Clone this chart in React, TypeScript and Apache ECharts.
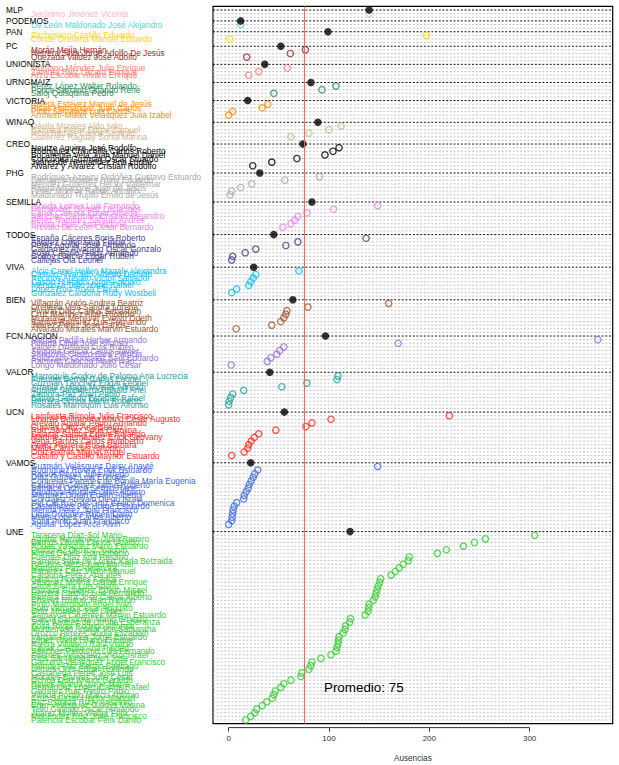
import React, { useEffect, useRef } from "react";
import * as echarts from "echarts";

const parties = [
  "MLP", "PODEMOS", "PAN", "PC", "UNIONISTA", "URNGMAIZ", "VICTORIA", "WINAQ", "CREO", "PHG",
  "SEMILLA", "TODOS", "VIVA", "BIEN", "FCN.NACION", "VALOR", "UCN", "VAMOS", "UNE",
];

const partyColors = [
  "#FFB6C1", "#40E0D0", "#FFD700", "#A52A2A", "#FA8072", "#2E8B57", "#FF8C00", "#D2B48C", "#000000", "#A9A9A9",
  "#EE82EE", "#483D8B", "#00BFFF", "#A0522D", "#9370DB", "#20A0A0", "#FF2A1F", "#4169E1", "#32CD32",
];

// party averages (black dots on the party rows)
const partyMeans = [140, 12, 99, 52, 36, 82, 19, 89, 74, 31, 83, 45, 25, 64, 96.5, 41, 55.5, 22, 121];

const memberNames: string[][] = [
  ["Jerónimo Jiménez Vicenta"],
  ["De León Maldonado José Alejandro"],
  ["Zachrisson Castillo Eduardo", "Conde Orellana Manuel Eduardo"],
  ["Morán Mejía Hernán", "Herrera Silva Jorge Adolfo De Jesús", "Quezada Valdez José Adolfo"],
  ["Montano Méndez Julio Enrique", "Zamora Ruiz Lázaro Enrique", "Arzú Escobar Álvaro Enrique"],
  ["Pérez López Walter Rolando", "Ponce Serrano Orlando René", "Saloj Quisquiná Pedro"],
  ["Rivera Estévez Manuel de Jesús", "Rivas Hernández Juan Carlos", "Pinto Samayoa Luis Carlos", "Arnheim-Müller Velásquez Julia Izabel"],
  ["Dávila Morales Aldo Iván", "Bámaca Pérez Edgar Samuel", "Ixcot Ramos Carlos Stuardo", "Gutiérrez Raguay Sonia Marina"],
  ["Neutze Aguirre José Rodolfo", "Rodríguez Chinchilla Carlos Roberto", "Bocanegra Vela Juan Manuel Daniel", "Concoguá Guzmán Óscar Stuardo", "Juárez de Hernández Ana Lucía", "Álvarez y Álvarez Cristian Rodolfo"],
  ["Rodríguez-Azpuru Ordóñez Gustavo Estuardo", "Samayoa Morales Rony Eduardo", "Méndez Gutiérrez Héctor Valdemar", "Rivera Mijangos Juan de Jesús", "Pérez Monroy Rafael Antonio", "Maldonado Trujillo Emilio de Jesús"],
  ["Pineda Lemus Luis Fernando", "Hernández Gómez Lucía Inés", "Canel Cabrera Edgar Alfredo", "Sánchez Guzmán Cristian Alejandro", "Pérez Ramírez Samuel Andrés", "Rivera López Ana Victoria", "Arévalo De León César Bernardo"],
  ["España Cáceres Boris Roberto", "Álvarez Lorenzana Felipe", "Pérez Aguilar José Armando", "Galdámez Alvarado Oscar Gonzalo", "Sosa Castillo Fredy Armando", "Godoy García Edgar Rubén", "Callejas Ola Leonel"],
  ["Alcic Canel Hellen Magaly Alexandra", "Castillo Alvarado Alberto Damián", "Recinos Arévalo Víctor Salvador", "Castro Hurtado Jorge Antonio", "Mendoza Tello Mario Rafael", "López Ruiz Rosa Elvira", "González Cardona Rudy Wostbeli"],
  ["Villagrán Antón Andrea Beatriz", "Orellana Vela Sandra Lorena", "Pivaral Díaz Carlos Sebastián", "Cruz Martínez Allan Ricardo", "Morataya Menjívar Evelyn Odeth", "Barrios Ramírez Luis Fernando", "Juárez Pérez José Carlos", "Alvarado Morales Marvin Estuardo"],
  ["Mérida Padilla Herber Armando", "Pineda Oliva José Alfonso", "Valdez Orellana Luis Rubén", "Segovia García Carlos Javier", "Sandoval Castro Sara Patricia", "Solórzano González Saúl Eduardo", "Ramírez Chacón Mario Iván", "Longo Maldonado Julio César"],
  ["Marroquín Godoy de Palomo Ana Lucrecia", "Fuentes Bernal Carlos Leonel", "Guzmán Tánchez Edgar Leonel", "Arreola Arriaga Moisés Alfredo", "Aguilar Salvatierra Ronald Ariel", "Zamora Paz Juan Pablo", "Batres Galindo Esteban Rafael", "Herrera Ochoa Mario Roberto", "Rosales Marroquín Luis Alfonso"],
  ["Lainfiesta Rímola Julio Francisco", "Linares Beltranena Mario César Augusto", "Arévalo Aguilar Pedro Armando", "Cuevas Ortiz Ana Beatriz", "Ruiz Sánchez Sofía Carolina", "Salazar Santos Edwin Rolando", "Martínez Hernández Erick Geovany", "Vega Barrios Carlos Humberto", "Pérez Herrera Rosa Bárbara", "Mejía Cano Luis Antonio", "Ortiz Batres Miguel Ángel", "Castillo y Castillo Maynor Estuardo"],
  ["Guzmán Velásquez Daisy Anayté", "Rodríguez Rivera Erick Estuardo", "Ramos Pérez Julio Alfredo", "Díaz Gómez Luis Enrique", "Contreras Paredes de Bonilla María Eugenia", "Calderón Gómez Jaime Roberto", "Bámaca Ochoa Sergio René", "Sandoval Morales José Alberto", "Martínez Durán Edwin Alberto", "González Arévalo Diego Israel", "Del Cid Ruiz de Ortiz Greicy Domenica", "Castellanos Paz Jorge Estuardo", "Mérida Pérez Julio Francisco", "Lima Ordóñez Rubén Darío", "Mena López Carlos Alberto", "Solís Pinto Juan Francisco", "Aguilar López Arce Alvin"],
  ["Taracena Díaz-Sol Mario", "Aguilar Hernández Juan Ramiro", "Barrios Zavala Carlos Ubaldo", "Rodas Vásquez Mario Estuardo", "Quiñónez Orozco Joaquín", "Flores Ovalle Juan Ignacio", "Fuentes Díaz Ana Rosario", "Carreto Sosa de López Karla Betzaida", "Recinos Meza Juan Manuel", "Martínez Paz Alejandra", "Ramírez Cruz Víctor Manuel", "Cardona Pérez Ana Inés", "Santizo Rosales Carlos", "Vásquez Molina Carlos Enrique", "Girón Sierra Luis Adolfo", "Estrada Gutiérrez Edwin Misael", "Herrera Castillo Luis Fernando", "Barrera Lara José Carlos Alberto", "Chávez Ruano Juan Ramón", "Pinto Marroquín Ángel Iván", "Soto Vargas César Augusto", "Ortiz Morales Joel Ulises", "Samayoa Cifuentes Marvin Estuardo", "García Sandoval Mario Ernesto", "Solís Álvarez de Urrutia Esperanza", "Sosa Rivas Rodrigo Alfonso", "Monterroso Aguilar Ilse Samantha", "Orozco Pérez Claudia Elizabeth", "Vargas Morales Jorge Estuardo", "López Rivas Hilario Enrique", "Rivera Villatoro Raúl Vinicio", "Cayax Castillo Ana Piedad", "Sánchez Perdomo Luis Fernando", "Fuentes Velásquez Víctor Israel", "Ríos Samayoa Erwin José", "Garzona Velásquez Ángel Francisco", "Méndez Paz Sergio Santiago", "Lemus Ortiz Edgar Rolando", "Castañeda Pérez José Luis", "Morales Barrios Julio César", "Ochoa Díaz Mynor Gerardo", "Reyes Pineda Jorge Mario", "Hernández López Carlos Rafael", "Godínez Ruiz Pedro Pablo", "Villeda Portillo Marco Antonio", "Cruz Salazar Héctor Manuel", "Paz Estrada Rudy Anselmo", "Bran Velásquez Gladys Marina", "Tello Galindo Óscar Armando", "Juárez Molina Walter Félix", "Menéndez Ruiz José Francisco", "Palencia Escobar Félix Danilo"],
];

const memberValues: number[][] = [
  [140],
  [12],
  [197, 1],
  [76.5, 61.5, 18],
  [58.5, 30, 20],
  [107, 93, 45],
  [39, 33.5, 4, 0],
  [112, 100, 80, 62],
  [110, 104, 96, 68, 43, 24],
  [90.5, 56, 23, 12, 3, 1.5],
  [148.5, 104.5, 78, 69, 66, 62, 54],
  [137, 69, 57, 27, 16.5, 4, 3],
  [70, 27, 24.5, 22, 20, 8, 3],
  [159.5, 79, 58, 57, 55, 52, 43, 7.5],
  [368, 169, 55, 51, 48, 42, 38.5, 2.5],
  [109, 108, 78, 53, 15, 4, 2, 0.5, 0],
  [220, 102, 83, 77, 47, 30, 25.5, 22.5, 20, 19, 15.5, 3],
  [148.5, 29, 26, 24.5, 22.5, 20.5, 19.5, 17.5, 15.5, 15, 8, 5.5, 4.5, 4, 3.5, 3, 0],
  [305, 256, 245, 234, 217, 208, 180, 179, 174, 170, 166, 162, 151.5, 150.5, 149, 148, 147, 146, 144, 140, 139.5, 139, 136, 121.5, 120.5, 116.5, 116, 114, 110, 109.5, 109, 108, 107, 102, 92, 83, 82, 80, 73, 72, 62, 55, 52, 46.5, 45, 43.5, 38, 33.5, 28, 26, 22, 17],
];

const overallMean = 75;
const meanLabel = "Promedio: 75";
const xTicks = [0, 100, 200, 300];
const xTitle = "Ausencias";

const FONT = "'Liberation Sans', Arial, Helvetica, sans-serif";

export default function App() {
  const ref = useRef<HTMLDivElement>(null);

  useEffect(() => {
    const chart = echarts.init(ref.current!, null, { renderer: "svg" });

    let totalRows = 0;
    memberValues.forEach((m) => (totalRows += m.length + 2));
    const topRow = totalRows - 1;
    const nCat = totalRows + 1;
    const cats: string[] = [];
    for (let i = 0; i < nCat; i++) cats.push(String(i));
    const groupLab: string[] = new Array(nCat).fill("");
    const memberLab: string[] = new Array(nCat).fill("");
    const memberCol: string[] = new Array(nCat).fill("#000");
    const isHeader: boolean[] = new Array(nCat).fill(false);
    const headerPts: number[][] = [];
    const memberPts: any[] = [];

    let pos = topRow;
    parties.forEach((p, i) => {
      groupLab[pos] = p;
      isHeader[pos] = true;
      headerPts.push([partyMeans[i], pos]);
      memberValues[i].forEach((v, j) => {
        const r = pos - 1 - j;
        memberLab[r] = memberNames[i][j] || "";
        memberCol[r] = partyColors[i];
        memberPts.push({ value: [v, r], itemStyle: { borderColor: partyColors[i] } });
      });
      pos -= memberValues[i].length + 2;
    });

    const lineRows: number[][] = [];
    for (let r = 1; r <= topRow; r++) lineRows.push([0, r, isHeader[r] ? 1 : 0]);

    const catAxisBase = {
      type: "category",
      data: cats,
      boundaryGap: false,
      position: "left",
      axisLine: { show: false },
      axisTick: { show: false },
      splitLine: { show: false },
    };

    chart.setOption({
      animation: false,
      textStyle: { fontFamily: FONT },
      grid: {
        left: 213,
        right: 6.3,
        top: 6.4,
        bottom: 41.4,
        containLabel: false,
        outerBoundsMode: "none",
        show: true,
        borderColor: "#000",
        borderWidth: 1.2,
      },
      xAxis: {
        type: "value",
        min: -15.6,
        max: 382.8,
        offset: 4,
        axisLine: { show: false },
        splitLine: { show: false },
        axisTick: { show: true, length: 4, customValues: xTicks, lineStyle: { color: "#333", width: 1 } },
        axisLabel: { customValues: xTicks, margin: 7, fontSize: 8, color: "#333", fontFamily: FONT },
        name: xTitle,
        nameLocation: "middle",
        nameGap: 27,
        nameTextStyle: { fontSize: 8.2, color: "#333", fontFamily: FONT },
      },
      yAxis: [
        {
          ...catAxisBase,
          axisLabel: {
            interval: 0,
            hideOverlap: false,
            align: "left",
            margin: 182,
            fontSize: 8.3,
            fontFamily: FONT,
            formatter: (v: string) => memberLab[+v],
            color: (v: string) => memberCol[+v],
          },
        },
        {
          ...catAxisBase,
          axisLabel: {
            interval: 0,
            hideOverlap: false,
            align: "left",
            margin: 207,
            fontSize: 8.3,
            fontFamily: FONT,
            color: "#000",
            formatter: (v: string) => groupLab[+v],
          },
        },
      ],
      series: [
        {
          type: "custom",
          z: 1,
          silent: true,
          encode: { x: 0, y: 1 },
          data: lineRows,
          renderItem: (params: any, api: any) => {
            const cs = params.coordSys;
            const y = api.coord([0, api.value(1)])[1];
            const h = api.value(2) === 1;
            return {
              type: "line",
              shape: { x1: cs.x, y1: y, x2: cs.x + cs.width, y2: y },
              style: { stroke: h ? "#111" : "#c4c4c4", lineWidth: 1, lineDash: [2, 1.7] },
            };
          },
        },
        {
          type: "custom",
          z: 1,
          silent: true,
          clip: false,
          encode: { x: 0, y: 1 },
          data: [[xTicks[0], 0, xTicks[xTicks.length - 1]]],
          renderItem: (params: any, api: any) => {
            const cs = params.coordSys;
            const x1 = api.coord([api.value(0), 0])[0];
            const x2 = api.coord([api.value(2), 0])[0];
            const y = cs.y + cs.height + 4;
            return {
              type: "line",
              shape: { x1, y1: y, x2, y2: y },
              style: { stroke: "#333", lineWidth: 1 },
            };
          },
        },
        {
          type: "scatter",
          z: 3,
          silent: true,
          symbol: "circle",
          symbolSize: 6.3,
          itemStyle: { color: "transparent", borderWidth: 1.3 },
          data: memberPts,
          markLine: {
            silent: true,
            symbol: ["none", "none"],
            label: { show: false },
            lineStyle: { color: "#F0685A", width: 1, type: "solid" },
            data: [{ xAxis: overallMean }],
          },
        },
        {
          type: "scatter",
          z: 4,
          silent: true,
          symbol: "circle",
          symbolSize: 7.5,
          itemStyle: { color: "#000" },
          data: headerPts,
        },
        {
          type: "custom",
          z: 5,
          silent: true,
          encode: { x: 0, y: 1 },
          data: [[95, 10]],
          renderItem: (params: any, api: any) => {
            const p = api.coord([api.value(0), api.value(1)]);
            return {
              type: "text",
              x: p[0],
              y: p[1],
              style: {
                text: meanLabel,
                fill: "#000",
                fontSize: 13.4,
                fontFamily: FONT,
                align: "left",
                verticalAlign: "middle",
              },
            };
          },
        },
      ],
    });

    return () => chart.dispose();
  }, []);

  return (
    <div
      ref={ref}
      style={{ position: "fixed", left: 0, top: 0, width: 619, height: 765, background: "#fff" }}
    />
  );
}
